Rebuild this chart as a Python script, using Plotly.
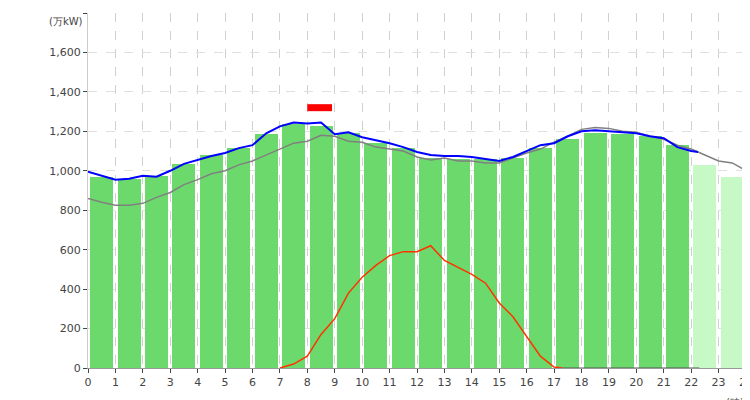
import plotly.graph_objects as go

hours = list(range(24))
bar_vals = [967, 958, 973, 1035, 1078, 1115, 1187, 1237, 1227, 1190, 1140, 1115, 1065, 1058, 1060, 1065, 1115, 1163, 1193, 1188, 1178, 1132, 1029, 968]
n_actual = 22

bt = [0,0.5,1,1.5,2,2.5,3,3.5,4,4.5,5,5.5,6,6.5,7,7.5,8,8.5,9,9.5,10,10.5,11,11.5,12,12.5,13,13.5,14,14.5,15,15.5,16,16.5,17,17.5,18,18.5,19,19.5,20,20.5,21,21.5,22,22.25]
blue = [995,975,955,960,975,970,1000,1035,1055,1075,1090,1115,1130,1190,1225,1245,1240,1245,1185,1195,1170,1155,1140,1120,1095,1080,1075,1075,1070,1060,1050,1070,1100,1130,1140,1175,1200,1205,1200,1195,1190,1175,1165,1120,1100,1095]

gt = [0,0.5,1,1.5,2,2.5,3,3.5,4,4.5,5,5.5,6,6.5,7,7.5,8,8.5,9,9.5,10,10.5,11,11.5,12,12.5,13,13.5,14,14.5,15,15.5,16,16.5,17,17.5,18,18.5,19,19.5,20,20.5,21,21.5,22,22.5,23,23.5,24]
gray = [860,840,825,825,835,865,890,930,955,985,1000,1030,1050,1080,1110,1140,1150,1180,1175,1150,1145,1120,1110,1100,1070,1055,1065,1050,1050,1040,1040,1065,1090,1110,1145,1175,1210,1220,1215,1200,1195,1175,1160,1130,1110,1080,1050,1040,1000]

rt = [7,7.5,8,8.5,9,9.5,10,10.5,11,11.5,12,12.5,13,13.5,14,14.5,15,15.5,16,16.5,17,17.3]
red = [0,20,60,170,250,380,460,520,570,590,590,620,545,510,475,430,330,260,160,60,5,0]

peak_x = [8.0, 8.9]
peak_y = [1320, 1320]

fig = go.Figure()
fig.add_bar(x=[h+0.5 for h in hours[:n_actual]], y=bar_vals[:n_actual], width=0.84,
            marker=dict(color="#6cd96c", line=dict(width=0)))
fig.add_bar(x=[h+0.5 for h in hours[n_actual:]], y=bar_vals[n_actual:], width=0.84,
            marker=dict(color="#c6f9c6", line=dict(width=0)))
fig.add_scatter(x=gt, y=gray, mode="lines", line=dict(color="#808080", width=1.5))
fig.add_scatter(x=bt, y=blue, mode="lines", line=dict(color="#0000ff", width=2))
fig.add_scatter(x=rt, y=red, mode="lines", line=dict(color="#ff3300", width=1.5))
fig.add_scatter(x=[17.3, 22.3], y=[0, 0], mode="lines", line=dict(color="#555555", width=1))
fig.add_scatter(x=peak_x, y=peak_y, mode="lines", line=dict(color="#ff0000", width=7))

fig.update_layout(
    width=750, height=400, showlegend=False, bargap=0,
    plot_bgcolor="white", paper_bgcolor="white",
    margin=dict(l=80, r=12, t=5, b=40, autoexpand=False),
    font=dict(family="DejaVu Sans", size=11, color="#444"),
    xaxis=dict(range=[0, 24], tickmode="array", tickvals=list(range(25)),
               showgrid=True, gridcolor="#d0d0d0", griddash="dash", automargin=False,
               showline=True, linecolor="#999", ticks="outside", ticklen=4, zeroline=False),
    yaxis=dict(range=[0, 1800], dtick=200, tickformat=",", showgrid=True, automargin=False,
               gridcolor="#e0e0e0", griddash="dash", showline=True, linecolor="#ccc",
               ticks="outside", ticklen=4, zeroline=False),
    annotations=[
        dict(text="(万kW)", xref="paper", yref="paper", x=-0.005, y=0.975, xanchor="right",
             yanchor="middle", showarrow=False, font=dict(size=10, color="#444")),
        dict(text="(時)", xref="paper", yref="paper", x=1.0, y=-0.075, xanchor="right",
             yanchor="top", showarrow=False, font=dict(size=10, color="#444")),
    ],
)
fig.write_html("out.html")
